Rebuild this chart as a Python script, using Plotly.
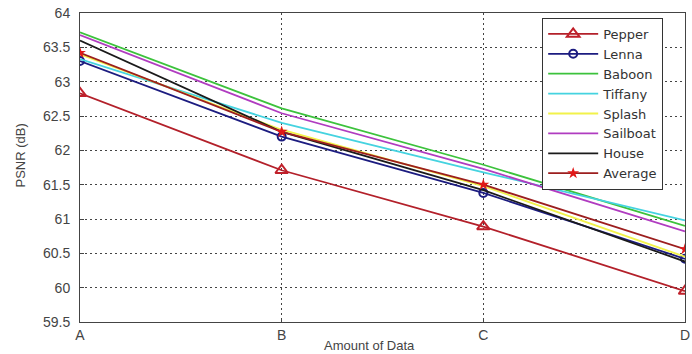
import plotly.graph_objects as go

categories = ["A", "B", "C", "D"]

pepper = [62.83, 61.71, 60.89, 59.95]
lenna = [63.30, 62.20, 61.38, 60.42]
baboon = [63.72, 62.61, 61.79, 60.90]
tiffany = [63.33, 62.40, 61.68, 60.98]
splash = [63.40, 62.30, 61.48, 60.45]
sailboat = [63.68, 62.54, 61.73, 60.82]
house = [63.60, 62.27, 61.42, 60.38]
average = [63.42, 62.27, 61.50, 60.56]

y_ticks = [59.5, 60, 60.5, 61, 61.5, 62, 62.5, 63, 63.5, 64]
y_ticktext = ["59.5", "60", "60.5", "61", "61.5", "62", "62.5", "63", "63.5", "64"]

series = [
    ("Pepper", pepper, "#B3202A", dict(symbol="triangle-up-open", size=11, color="#C0202A", line=dict(width=2))),
    ("Lenna", lenna, "#1C1C80", dict(symbol="circle-open", size=8, color="#1C1C80", line=dict(width=2))),
    ("Baboon", baboon, "#3CC23C", None),
    ("Tiffany", tiffany, "#45D3E0", None),
    ("Splash", splash, "#F2F24A", None),
    ("Sailboat", sailboat, "#B03CC0", None),
    ("House", house, "#1A1A1A", None),
    ("Average", average, "#9C1E1E", dict(symbol="star", size=9, color="#E01818")),
]

fig = go.Figure()
for name, vals, color, marker in series:
    kw = dict(x=categories, y=vals, name=name, line=dict(color=color, width=1.8))
    if marker:
        kw["mode"] = "lines+markers"
        kw["marker"] = marker
    else:
        kw["mode"] = "lines"
    fig.add_trace(go.Scatter(**kw))

grid_dash = "2px,3px"

fig.update_layout(
    width=692, height=354,
    margin=dict(l=80, r=2, t=13, b=32),
    paper_bgcolor="white", plot_bgcolor="white",
    font=dict(family="Liberation Sans, Arial, sans-serif", size=14, color="#444"),
    showlegend=True,
    legend=dict(x=(546 - 80) / 610, y=0.984, xanchor="left", yanchor="top",
                bgcolor="white", bordercolor="#333", borderwidth=1,
                font=dict(family="DejaVu Sans, sans-serif", size=13, color="#333"),
                itemwidth=50, tracegroupgap=0),
    xaxis=dict(type="category", range=[0, 3], showgrid=True, gridcolor="#444",
               griddash=grid_dash, gridwidth=1, showline=True, linecolor="#444",
               linewidth=1, mirror=True, ticks="inside", ticklen=4,
               tickcolor="#444", tickfont=dict(size=14, color="#444"), zeroline=False),
    yaxis=dict(range=[59.5, 64], tickvals=y_ticks, ticktext=y_ticktext,
               showgrid=True, gridcolor="#444", griddash=grid_dash, gridwidth=1,
               showline=True, linecolor="#444", linewidth=1, mirror=True,
               ticks="inside", ticklen=4, tickcolor="#444", ticklabelstandoff=6,
               tickfont=dict(size=14, color="#444"), zeroline=False),
    annotations=[
        dict(text="Amount of Data", xref="paper", yref="paper", x=(372 - 80) / 610,
             y=(322 - 345) / 309, xanchor="center", yanchor="middle", showarrow=False,
             font=dict(size=13, color="#444")),
        dict(text="PSNR (dB)", xref="paper", yref="paper", x=(20 - 80) / 610,
             y=(322 - 155) / 309, xanchor="center", yanchor="middle", textangle=-90,
             showarrow=False, font=dict(size=13, color="#444")),
    ],
)

fig.write_html("out.html")
